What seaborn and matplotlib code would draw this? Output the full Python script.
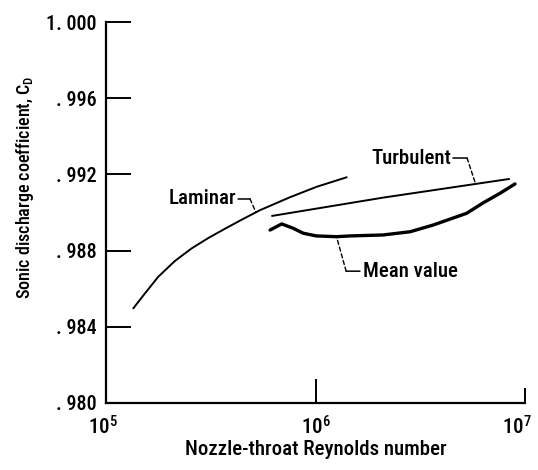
import matplotlib
matplotlib.use("Agg")
import matplotlib.pyplot as plt
import matplotlib.transforms as mtransforms
import seaborn as sns
import pandas as pd

# ---- data ----
laminar_re = [1.35e5, 1.536e5, 1.777e5, 2.135e5, 2.566e5, 3.078e5, 3.70e5,
              4.44e5, 5.43e5, 7.55e5, 1.013e6, 1.409e6]
laminar_cd = [0.98497, 0.98576, 0.98663, 0.98746, 0.98812, 0.98866, 0.98915,
              0.98962, 0.99012, 0.99080, 0.99135, 0.99185]

turbulent_re = [6.2e5, 2.1e6, 8.4e6]
turbulent_cd = [0.98982, 0.99078, 0.99176]

mean_re = [6.07e5, 6.9e5, 7.83e5, 8.75e5, 1.01e6, 1.26e6, 1.46e6, 2.1e6,
           2.83e6, 3.64e6, 5.27e6, 6.3e6, 7.6e6, 8.96e6]
mean_cd = [0.98908, 0.98940, 0.98917, 0.98891, 0.98877, 0.98873, 0.98877,
           0.98882, 0.98899, 0.98934, 0.98996, 0.99050, 0.99101, 0.99150]

x_ticks = [1e5, 1e6, 1e7]
x_ticklabels = ["$10^5$", "$10^6$", "$10^7$"]
y_ticks = [0.980, 0.984, 0.988, 0.992, 0.996, 1.000]
y_ticklabels = [". 980", ". 984", ". 988", ". 992", ". 996", "1. 000"]

sns.set_style("ticks")
fam = ["Roboto Condensed", "Open Sans Condensed", "Liberation Sans Narrow",
       "Liberation Sans", "DejaVu Sans"]
plt.rcParams["font.family"] = fam
plt.rcParams["font.stretch"] = "condensed"
plt.rcParams["font.weight"] = "medium"
plt.rcParams["axes.labelweight"] = "medium"
plt.rcParams["text.color"] = "black"
plt.rcParams["axes.labelcolor"] = "black"
plt.rcParams["mathtext.fontset"] = "custom"
plt.rcParams["mathtext.rm"] = "Roboto Condensed:medium"
plt.rcParams["mathtext.it"] = "Roboto Condensed:medium"

fig = plt.figure(figsize=(5.38, 4.70), dpi=100)
ax = fig.add_axes([106 / 538, 1 - 403 / 470, (525 - 106) / 538, (403 - 22) / 470])

lam = pd.DataFrame({"re": laminar_re, "cd": laminar_cd})
tur = pd.DataFrame({"re": turbulent_re, "cd": turbulent_cd})
mea = pd.DataFrame({"re": mean_re, "cd": mean_cd})

sns.lineplot(data=lam, x="re", y="cd", ax=ax, color="black", lw=1.4, sort=False)
sns.lineplot(data=tur, x="re", y="cd", ax=ax, color="black", lw=1.4, sort=False)
sns.lineplot(data=mea, x="re", y="cd", ax=ax, color="black", lw=2.4, sort=False)

ax.set_xscale("log")
ax.set_xlim(1e5, 1e7)
ax.set_ylim(0.980, 1.000)
ax.set_xticks(x_ticks)
ax.set_xticklabels(x_ticklabels)
ax.set_yticks(y_ticks)
ax.set_yticklabels(y_ticklabels)
ax.xaxis.set_minor_locator(matplotlib.ticker.NullLocator())

for s in ["top", "right"]:
    ax.spines[s].set_visible(False)
for s in ["left", "bottom"]:
    ax.spines[s].set_linewidth(1.6)
    ax.spines[s].set_color("black")

ax.tick_params(axis="y", direction="in", length=18, width=1.4, pad=7,
               labelsize=14.5, colors="black")
ax.tick_params(axis="x", direction="in", length=17, width=1.4, pad=9,
               labelsize=15, colors="black")

# shorter tick at the right end, and pull its label slightly inward
xt = ax.xaxis.get_major_ticks()
xt[2].tick1line.set_markersize(11)
lbls = ax.get_xticklabels()
lbls[2].set_transform(lbls[2].get_transform() +
                      mtransforms.ScaledTranslation(-6 / 72, 0, fig.dpi_scale_trans))
lbls[0].set_transform(lbls[0].get_transform() +
                      mtransforms.ScaledTranslation(-2 / 72, 0, fig.dpi_scale_trans))

ax.set_xlabel("Nozzle-throat Reynolds number", fontsize=15, labelpad=1)
ax.set_ylabel("Sonic discharge coefficient, $\\mathregular{C_D}$", fontsize=13)
ax.yaxis.set_label_coords((36 - 106) / 419, (403 - 187) / 381)

dash = dict(arrowstyle="-", lw=1.0, color="black", linestyle=(0, (3, 2)),
            shrinkA=0, shrinkB=0)
solid = dict(arrowstyle="-", lw=1.1, color="black", shrinkA=0, shrinkB=0)

# Laminar label
ax.annotate("", xy=(5.2e5, 0.99000), xytext=(4.87e5, 0.99071), arrowprops=dash)
ax.annotate("", xy=(4.87e5, 0.99071), xytext=(4.27e5, 0.99071), arrowprops=solid)
ax.text(4.17e5, 0.99071, "Laminar", ha="right", va="center", fontsize=15)

# Turbulent label
ax.annotate("", xy=(5.77e6, 0.99160), xytext=(5.29e6, 0.99286), arrowprops=dash)
ax.annotate("", xy=(5.29e6, 0.99286), xytext=(4.53e6, 0.99286), arrowprops=solid)
ax.text(4.43e6, 0.99286, "Turbulent", ha="right", va="center", fontsize=15)

# Mean value label
ax.annotate("", xy=(mean_re[5], mean_cd[5]), xytext=(1.40e6, 0.98692), arrowprops=dash)
ax.annotate("", xy=(1.40e6, 0.98692), xytext=(1.63e6, 0.98692), arrowprops=solid)
ax.text(1.685e6, 0.98692, "Mean value", ha="left", va="center", fontsize=15)

fig.savefig("out.png", dpi=100)
